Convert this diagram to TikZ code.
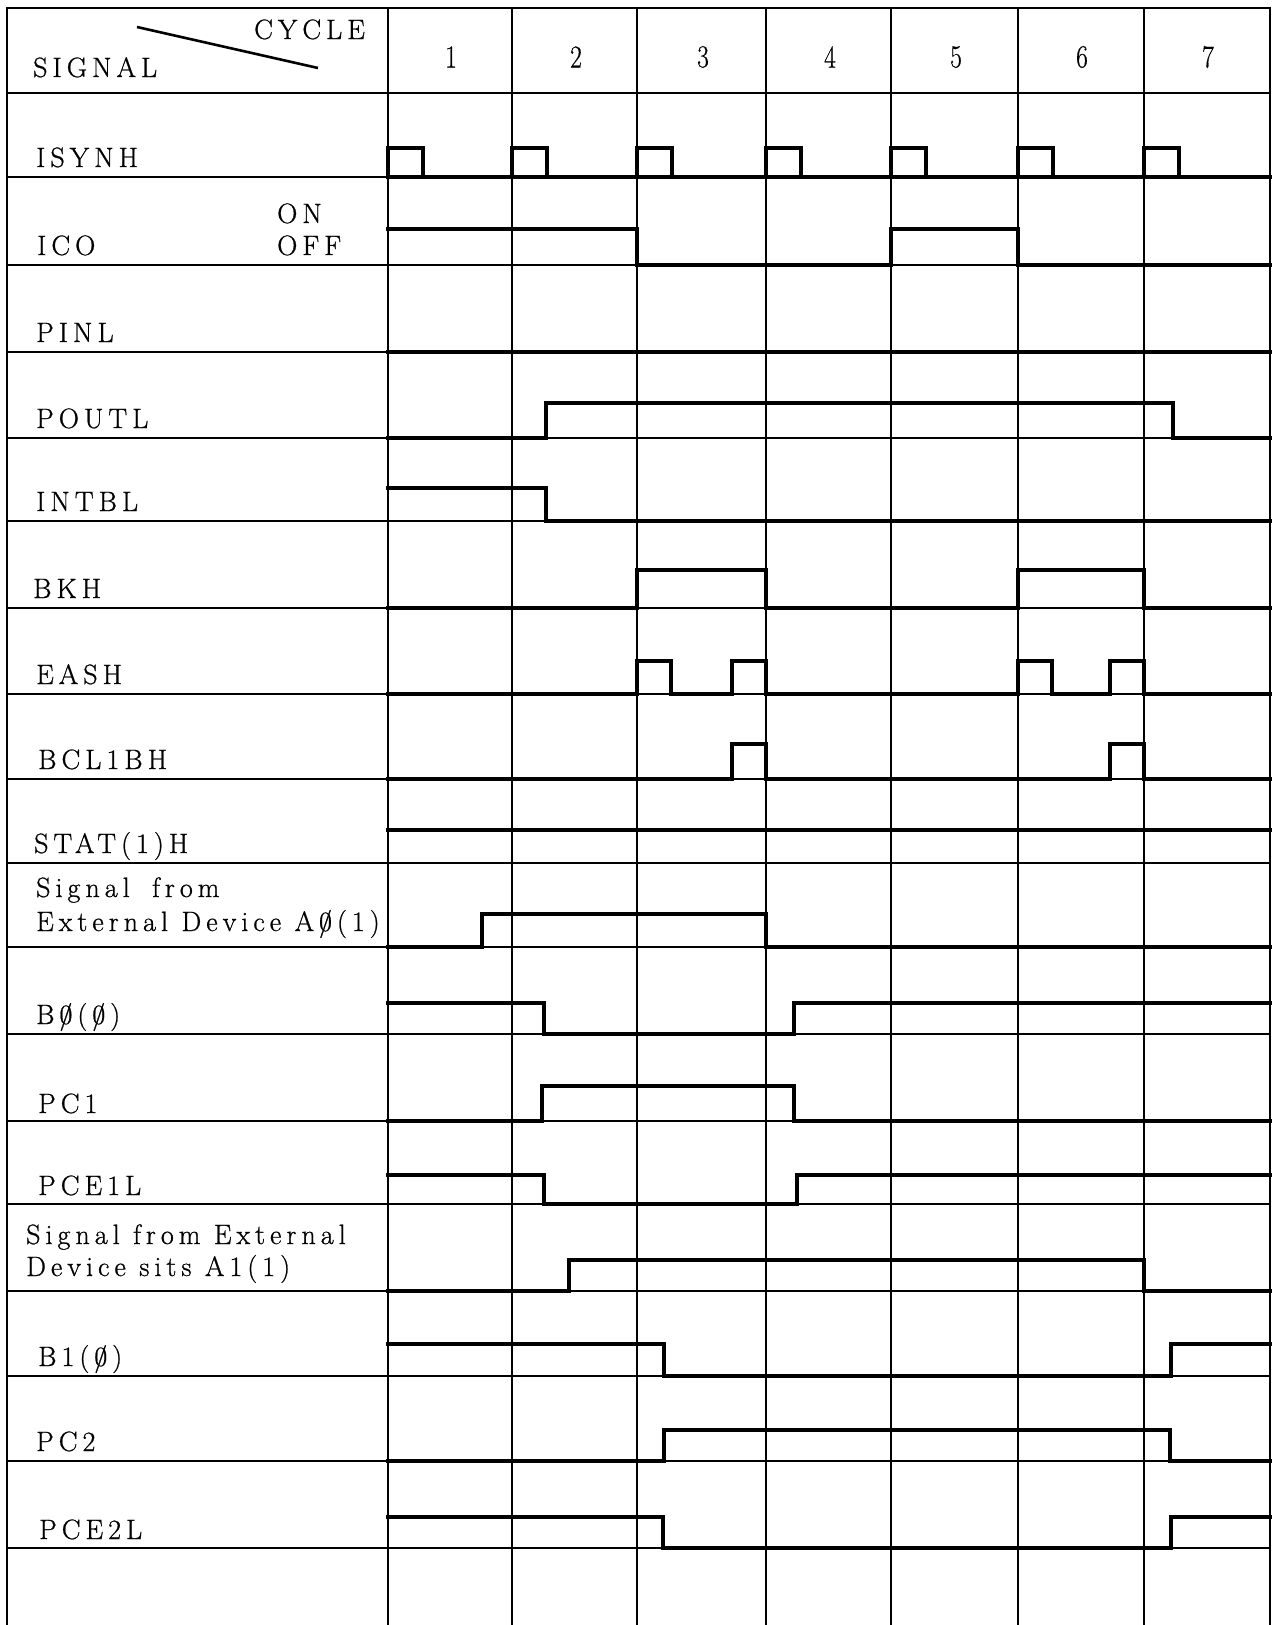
\documentclass[tikz,border=0pt]{standalone}
\usepackage{fontspec}
\newfontfamily\lblfont{Latin Modern Roman}[LetterSpace=18, FakeBold=0.8]
\newfontfamily\numfont{Latin Modern Roman}[FakeBold=0.6]
\newcommand\ls{\kern0.18em}
\newcommand\zs{\ls{\ooalign{0\cr\hidewidth/\hidewidth\cr}}\ls}
\tikzset{
  gridline/.style={line width=1.3pt},
  frameline/.style={line width=2.4pt},
  sig/.style={line width=3.3pt, line join=miter, line cap=rect},
  lbl/.style={anchor=base west, inner sep=0pt, font=\lblfont\fontsize{28}{30}\selectfont},
  num/.style={anchor=center, inner sep=0pt, font=\numfont\fontsize{32}{34}\selectfont, xscale=0.8, transform shape}
}
\begin{document}
\begin{tikzpicture}[x=1pt,y=-1pt]
\useasboundingbox (0,0) rectangle (1280,1625);
% horizontal grid lines
\foreach \yy in {93,177,265,352,438,521,608,694,779,863,947,1034,1121,1204,1291,1376,1461,1548}
  \draw[gridline] (7,\yy) -- (1270,\yy);
% vertical cycle lines
\foreach \xx in {512,637,766,891,1018,1144}
  \draw[gridline] (\xx,8) -- (\xx,1625);
% frame
\draw[frameline] (7,1625) -- (7,8) -- (1270,8) -- (1270,1625);
\draw[frameline] (388,8) -- (388,1625);
% header
\node[lbl] (hsig) at (33,77) {SIGNAL};
\node[lbl] (hcyc) at (254,39) {CYCLE};
\draw[line width=2.6pt] (137,27) -- (318,68);
\node[num] (n1) at (451,57) {1};
\node[num] (n2) at (576,57) {2};
\node[num] (n3) at (703,57) {3};
\node[num] (n4) at (830,57) {4};
\node[num] (n5) at (956,57) {5};
\node[num] (n6) at (1082,57) {6};
\node[num] (n7) at (1208,57) {7};
% labels
\node[lbl] (lisynh) at (36,167) {ISYNH};
\node[lbl] (lico) at (37,255) {ICO};
\node[lbl] (lon) at (277,223) {ON};
\node[lbl] (loff) at (277,255) {OFF};
\node[lbl] (lpinl) at (36,342) {PINL};
\node[lbl] (lpoutl) at (36,428) {POUTL};
\node[lbl] (lintbl) at (36,511) {INTBL};
\node[lbl] (lbkh) at (33,598) {BKH};
\node[lbl] (leash) at (36,684) {EASH};
\node[lbl] (lbcl) at (38,769) {BCL1BH};
\node[lbl] (lstat) at (34,853) {STAT(1)H};
\node[lbl] (la0a) at (36,897) {Signal\hspace{9pt} from};
\node[lbl] (la0b) at (36,931) {External Device A\zs(1)};
\node[lbl] (lb0) at (36,1024) {B\zs(\zs)};
\node[lbl] (lpc1) at (38,1113) {PC1};
\node[lbl] (lpce1) at (38,1195) {PCE1L};
\node[lbl] (la1a) at (26,1244) {Signal from External};
\node[lbl] (la1b) at (26,1276) {Device sits A1(1)};
\node[lbl] (lb1) at (38,1366) {B1(\zs)};
\node[lbl] (lpc2) at (36,1451) {PC2};
\node[lbl] (lpce2) at (39,1539) {PCE2L};
% signals
\draw[sig] (388,177) -- (1270,177);
\foreach \cc in {388,512,637,766,891,1018,1144}
  \draw[sig] (\cc,177) -- (\cc,148) -- ++(35,0) -- ++(0,29);
\draw[sig] (388,229) -- (637,229) -- (637,265) -- (891,265) -- (891,229) -- (1018,229) -- (1018,265) -- (1270,265);
\draw[sig] (388,352) -- (1270,352);
\draw[sig] (388,438) -- (546,438) -- (546,403) -- (1173,403) -- (1173,438) -- (1270,438);
\draw[sig] (388,488) -- (546,488) -- (546,521) -- (1270,521);
\draw[sig] (388,608) -- (637,608) -- (637,570) -- (766,570) -- (766,608) -- (1018,608) -- (1018,570) -- (1144,570) -- (1144,608) -- (1270,608);
\draw[sig] (388,694) -- (637,694) -- (637,661) -- (671,661) -- (671,694) -- (732,694) -- (732,661) -- (766,661) -- (766,694) -- (1018,694) -- (1018,661) -- (1052,661) -- (1052,694) -- (1110,694) -- (1110,661) -- (1144,661) -- (1144,694) -- (1270,694);
\draw[sig] (388,779) -- (732,779) -- (732,744) -- (766,744) -- (766,779) -- (1110,779) -- (1110,744) -- (1144,744) -- (1144,779) -- (1270,779);
\draw[sig] (388,830) -- (1270,830);
\draw[sig] (388,947) -- (482,947) -- (482,914) -- (766,914) -- (766,947) -- (1270,947);
\draw[sig] (388,1003) -- (544,1003) -- (544,1034) -- (794,1034) -- (794,1003) -- (1270,1003);
\draw[sig] (388,1121) -- (542,1121) -- (542,1086) -- (794,1086) -- (794,1121) -- (1270,1121);
\draw[sig] (388,1175) -- (544,1175) -- (544,1204) -- (797,1204) -- (797,1175) -- (1270,1175);
\draw[sig] (388,1291) -- (569,1291) -- (569,1260) -- (1144,1260) -- (1144,1291) -- (1270,1291);
\draw[sig] (388,1344) -- (664,1344) -- (664,1376) -- (1171,1376) -- (1171,1344) -- (1270,1344);
\draw[sig] (388,1461) -- (664,1461) -- (664,1430) -- (1170,1430) -- (1170,1461) -- (1270,1461);
\draw[sig] (388,1517) -- (663,1517) -- (663,1548) -- (1171,1548) -- (1171,1517) -- (1270,1517);
\end{tikzpicture}
\end{document}
